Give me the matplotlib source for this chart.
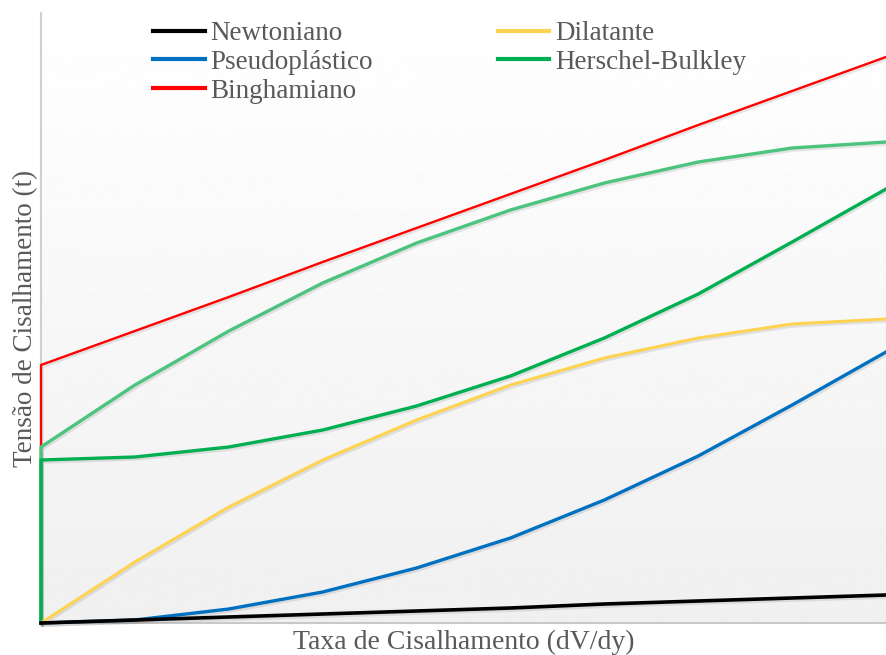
import numpy as np
import matplotlib
matplotlib.use('Agg')
import matplotlib.pyplot as plt
import matplotlib.patheffects as pe

x = list(range(10))

newtoniano = [0, 0.3, 0.6, 0.9, 1.2, 1.5, 1.9, 2.2, 2.5, 2.8]
pseudoplastico = [0, 0.3, 1.4, 3.1, 5.5, 8.5, 12.3, 16.7, 21.8, 27.1]
binghamiano = [25.8, 29.2, 32.6, 36.1, 39.5, 42.9, 46.3, 49.8, 53.2, 56.6]
dilatante = [0, 6.1, 11.6, 16.3, 20.3, 23.8, 26.5, 28.5, 29.9, 30.4]
herschel = [16.3, 16.6, 17.6, 19.3, 21.7, 24.7, 28.5, 32.9, 38.1, 43.4]
extra = [17.6, 23.8, 29.2, 34.0, 38.0, 41.3, 44.0, 46.1, 47.5, 48.1]

plt.rcParams['font.family'] = ['Liberation Serif', 'DejaVu Serif']
txt = '#595959'

fig = plt.figure(figsize=(8.86, 6.55), dpi=100)
ax = fig.add_axes([41 / 886, 32 / 655, 845 / 886, 610 / 655])

ymax = 61
# gradient background
grad = np.linspace(1.0, 0.94, 256).reshape(-1, 1)
ax.imshow(grad, extent=[0, 9, 0, ymax], aspect='auto', cmap='gray',
          vmin=0, vmax=1, zorder=0, origin='upper')

shadow = [pe.SimpleLineShadow(offset=(1.0, -1.5), alpha=0.13, shadow_color='#444444'),
          pe.Normal()]


def curve(xs, ys, color, lw, label=None, yield_start=False):
    if yield_start:
        xs = [0] + list(xs)
        ys = [0] + list(ys)
    return ax.plot(xs, ys, color=color, lw=lw, label=label, path_effects=shadow,
                   solid_joinstyle='round', clip_on=False, zorder=3)[0]


h_bing = curve(x, binghamiano, '#FF0000', 1.7, 'Binghamiano', True)
curve(x, extra, '#4CC47E', 2.4, None, True)
h_hb = curve(x, herschel, '#00B050', 2.4, 'Herschel-Bulkley', True)
h_dil = curve(x, dilatante, '#FFD34F', 2.2, 'Dilatante')
h_pse = curve(x, pseudoplastico, '#0070C0', 2.4, 'Pseudoplástico')
h_new = curve(x, newtoniano, '#000000', 2.6, 'Newtoniano')

ax.set_xlim(0, 9)
ax.set_ylim(0, ymax)
ax.set_xticks([])
ax.set_yticks([])
for s in ['top', 'right']:
    ax.spines[s].set_visible(False)
ax.spines['left'].set_color('#d0d0d0')
ax.spines['bottom'].set_color('#c8c8c8')
ax.spines['left'].set_linewidth(1.5)
ax.spines['bottom'].set_linewidth(1.5)
ax.spines['left'].set_zorder(1)
ax.spines['bottom'].set_zorder(1)

ax.set_xlabel('Taxa de Cisalhamento (dV/dy)', fontsize=20, color=txt, labelpad=5)
ax.set_ylabel('Tensão de Cisalhamento (t)', fontsize=19.5, color=txt, labelpad=2)

leg = ax.legend([h_new, h_pse, h_bing, h_dil, h_hb],
                ['Newtoniano', 'Pseudoplástico', 'Binghamiano', 'Dilatante', 'Herschel-Bulkley'],
                ncol=2, frameon=False, fontsize=19.5, loc='upper left',
                bbox_to_anchor=(0.12, 1.0045), handlelength=1.9, handletextpad=0.22,
                labelspacing=0.14, columnspacing=4.6, borderaxespad=0)
for t in leg.get_texts():
    t.set_color(txt)
for l in leg.get_lines():
    l.set_linewidth(3)
    l.set_path_effects([])

fig.savefig('out.png', dpi=100)
